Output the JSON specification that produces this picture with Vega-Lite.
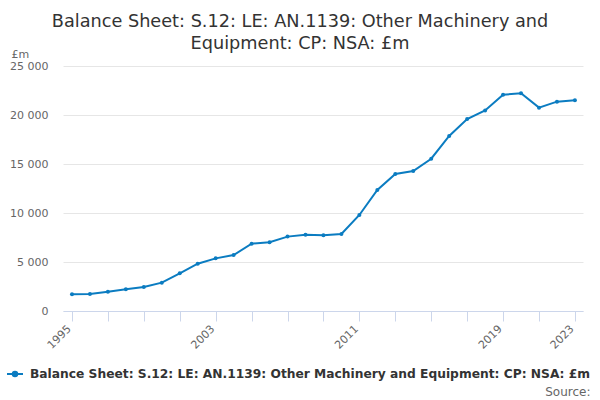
{
  "$schema": "https://vega.github.io/schema/vega-lite/v6.json",
  "description": "Balance Sheet S.12 LE AN.1139 Other Machinery and Equipment, annual, £m",
  "width": 520,
  "height": 245,
  "autosize": "none",
  "padding": {"left": 63, "top": 66, "right": 17, "bottom": 89},
  "title": {
    "text": ["Balance Sheet: S.12: LE: AN.1139: Other Machinery and", "Equipment: CP: NSA: £m"],
    "font": "DejaVu Sans",
    "fontSize": 17.7,
    "fontWeight": "normal",
    "color": "#333333",
    "lineHeight": 22,
    "anchor": "middle",
    "frame": "group",
    "dx": -23,
    "offset": -5
  },
  "data": {
    "values": [
      {"year": 1995, "value": 1700, "series": "Balance Sheet: S.12: LE: AN.1139: Other Machinery and Equipment: CP: NSA: £m"},
      {"year": 1996, "value": 1730, "series": "Balance Sheet: S.12: LE: AN.1139: Other Machinery and Equipment: CP: NSA: £m"},
      {"year": 1997, "value": 1970, "series": "Balance Sheet: S.12: LE: AN.1139: Other Machinery and Equipment: CP: NSA: £m"},
      {"year": 1998, "value": 2210, "series": "Balance Sheet: S.12: LE: AN.1139: Other Machinery and Equipment: CP: NSA: £m"},
      {"year": 1999, "value": 2450, "series": "Balance Sheet: S.12: LE: AN.1139: Other Machinery and Equipment: CP: NSA: £m"},
      {"year": 2000, "value": 2890, "series": "Balance Sheet: S.12: LE: AN.1139: Other Machinery and Equipment: CP: NSA: £m"},
      {"year": 2001, "value": 3840, "series": "Balance Sheet: S.12: LE: AN.1139: Other Machinery and Equipment: CP: NSA: £m"},
      {"year": 2002, "value": 4830, "series": "Balance Sheet: S.12: LE: AN.1139: Other Machinery and Equipment: CP: NSA: £m"},
      {"year": 2003, "value": 5370, "series": "Balance Sheet: S.12: LE: AN.1139: Other Machinery and Equipment: CP: NSA: £m"},
      {"year": 2004, "value": 5710, "series": "Balance Sheet: S.12: LE: AN.1139: Other Machinery and Equipment: CP: NSA: £m"},
      {"year": 2005, "value": 6870, "series": "Balance Sheet: S.12: LE: AN.1139: Other Machinery and Equipment: CP: NSA: £m"},
      {"year": 2006, "value": 7010, "series": "Balance Sheet: S.12: LE: AN.1139: Other Machinery and Equipment: CP: NSA: £m"},
      {"year": 2007, "value": 7590, "series": "Balance Sheet: S.12: LE: AN.1139: Other Machinery and Equipment: CP: NSA: £m"},
      {"year": 2008, "value": 7790, "series": "Balance Sheet: S.12: LE: AN.1139: Other Machinery and Equipment: CP: NSA: £m"},
      {"year": 2009, "value": 7720, "series": "Balance Sheet: S.12: LE: AN.1139: Other Machinery and Equipment: CP: NSA: £m"},
      {"year": 2010, "value": 7860, "series": "Balance Sheet: S.12: LE: AN.1139: Other Machinery and Equipment: CP: NSA: £m"},
      {"year": 2011, "value": 9800, "series": "Balance Sheet: S.12: LE: AN.1139: Other Machinery and Equipment: CP: NSA: £m"},
      {"year": 2012, "value": 12350, "series": "Balance Sheet: S.12: LE: AN.1139: Other Machinery and Equipment: CP: NSA: £m"},
      {"year": 2013, "value": 13980, "series": "Balance Sheet: S.12: LE: AN.1139: Other Machinery and Equipment: CP: NSA: £m"},
      {"year": 2014, "value": 14290, "series": "Balance Sheet: S.12: LE: AN.1139: Other Machinery and Equipment: CP: NSA: £m"},
      {"year": 2015, "value": 15540, "series": "Balance Sheet: S.12: LE: AN.1139: Other Machinery and Equipment: CP: NSA: £m"},
      {"year": 2016, "value": 17860, "series": "Balance Sheet: S.12: LE: AN.1139: Other Machinery and Equipment: CP: NSA: £m"},
      {"year": 2017, "value": 19590, "series": "Balance Sheet: S.12: LE: AN.1139: Other Machinery and Equipment: CP: NSA: £m"},
      {"year": 2018, "value": 20470, "series": "Balance Sheet: S.12: LE: AN.1139: Other Machinery and Equipment: CP: NSA: £m"},
      {"year": 2019, "value": 22070, "series": "Balance Sheet: S.12: LE: AN.1139: Other Machinery and Equipment: CP: NSA: £m"},
      {"year": 2020, "value": 22210, "series": "Balance Sheet: S.12: LE: AN.1139: Other Machinery and Equipment: CP: NSA: £m"},
      {"year": 2021, "value": 20750, "series": "Balance Sheet: S.12: LE: AN.1139: Other Machinery and Equipment: CP: NSA: £m"},
      {"year": 2022, "value": 21360, "series": "Balance Sheet: S.12: LE: AN.1139: Other Machinery and Equipment: CP: NSA: £m"},
      {"year": 2023, "value": 21500, "series": "Balance Sheet: S.12: LE: AN.1139: Other Machinery and Equipment: CP: NSA: £m"}
    ]
  },
  "mark": {
    "type": "line",
    "strokeWidth": 2,
    "point": {"filled": true, "size": 16}
  },
  "encoding": {
    "x": {
      "field": "year",
      "type": "quantitative",
      "scale": {"domain": [1994.5, 2023.45], "nice": false, "zero": false},
      "axis": {
        "values": [1995, 1997, 1999, 2001, 2003, 2005, 2007, 2009, 2011, 2013, 2015, 2017, 2019, 2021, 2023],
        "format": "d",
        "labelExpr": "datum.value == 1995 || datum.value == 2003 || datum.value == 2011 || datum.value == 2019 || datum.value == 2023 ? datum.label : ''",
        "labelAngle": -45,
        "labelAlign": "right",
        "labelBaseline": "middle",
        "labelPadding": 6,
        "labelOffset": -3,
        "labelFontSize": 11,
        "labelColor": "#666666",
        "labelOverlap": false,
        "grid": false,
        "domainColor": "#ccd6eb",
        "tickColor": "#ccd6eb",
        "tickSize": 10,
        "title": "Source:",
        "titleFontWeight": "normal",
        "titleFontSize": 12,
        "titleColor": "#666666",
        "titleAnchor": "end",
        "titleAlign": "right",
        "titleBaseline": "alphabetic",
        "titleX": 527,
        "titleY": 84
      }
    },
    "y": {
      "field": "value",
      "type": "quantitative",
      "scale": {"domain": [0, 25000], "nice": false},
      "axis": {
        "values": [0, 5000, 10000, 15000, 20000, 25000],
        "labelExpr": "replace(format(datum.value, ','), ',', ' ')",
        "labelFontSize": 11,
        "labelColor": "#666666",
        "labelPadding": 15,
        "ticks": false,
        "domain": false,
        "gridColor": "#e6e6e6",
        "title": "£m",
        "titleAngle": 0,
        "titleFontWeight": "normal",
        "titleFontSize": 11,
        "titleColor": "#666666",
        "titleAlign": "left",
        "titleBaseline": "alphabetic",
        "titleX": -52,
        "titleY": -9
      }
    },
    "color": {
      "field": "series",
      "type": "nominal",
      "scale": {"range": ["#0b7cc1"]},
      "legend": {
        "title": null,
        "orient": "none",
        "legendX": -57,
        "legendY": 299,
        "symbolType": "M-1,0H1M0,-0.28A0.28,0.28,0,1,1,0,0.28A0.28,0.28,0,1,1,0,-0.28Z",
        "symbolSize": 256,
        "symbolStrokeWidth": 2,
        "symbolFillColor": "#0b7cc1",
        "symbolStrokeColor": "#0b7cc1",
        "labelFontSize": 12.25,
        "labelFontWeight": "bold",
        "labelColor": "#333333",
        "labelLimit": 0,
        "labelOffset": 6
      }
    }
  },
  "config": {
    "font": "DejaVu Sans",
    "view": {"stroke": null}
  }
}
